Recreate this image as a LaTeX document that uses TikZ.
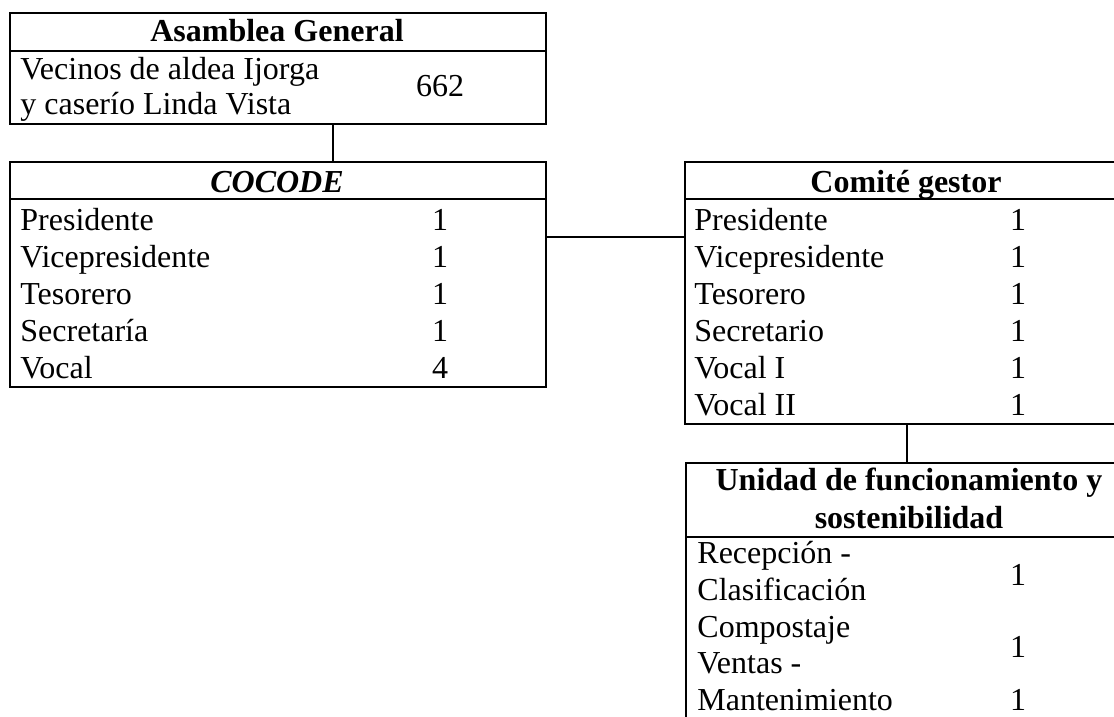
\documentclass[tikz,border=0pt]{standalone}
\usepackage{fontspec}
\setmainfont{Liberation Serif}
\begin{document}
\begin{tikzpicture}[x=0.5pt,y=-0.5pt,
  box/.style={draw=black,line width=0.8pt,rectangle,inner sep=0pt,anchor=north west},
  sep/.style={line width=0.8pt},
  conn/.style={line width=0.8pt},
  txt/.style={inner sep=0pt,anchor=base west,font=\fontsize{16}{18.5}\selectfont},
  num/.style={inner sep=0pt,anchor=base,font=\fontsize{16}{18.5}\selectfont},
  head/.style={inner sep=0pt,anchor=base,font=\fontsize{16}{18.5}\selectfont\bfseries}]
\useasboundingbox (0,0) rectangle (1114,717);
\fill[white] (0,0) rectangle (1114,717);
\clip (0,0) rectangle (1114,717);

% boxes
\node[box,minimum width=268pt,minimum height=55.5pt] (asamblea) at (9,12) {};
\node[box,minimum width=268pt,minimum height=112.5pt] (cocode) at (9,161) {};
\node[box,minimum width=223pt,minimum height=131pt] (comite) at (684,161) {};
\node[box,minimum width=224pt,minimum height=150pt] (unidad) at (685,462) {};

% header separators
\coordinate (hA) at (0,51);
\coordinate (hB) at (0,199);
\coordinate (hC) at (0,537);
\draw[sep] (asamblea.west |- hA) -- (asamblea.east |- hA);
\draw[sep] (cocode.west |- hB) -- (cocode.east |- hB);
\draw[sep] (comite.west |- hB) -- (comite.east |- hB);
\draw[sep] (unidad.west |- hC) -- (unidad.east |- hC);

% connectors
\coordinate (c1) at (333,0);
\coordinate (c2) at (0,237);
\coordinate (c3) at (907,0);
\draw[conn] (asamblea.south -| c1) -- (cocode.north -| c1);
\draw[conn] (cocode.east |- c2) -- (comite.west |- c2);
\draw[conn] (comite.south -| c3) -- (unidad.north -| c3);

% Asamblea General
\node[head] (tA) at (277,42) {Asamblea General};
\node[txt] (a1) at (20,80) {Vecinos de aldea Ijorga};
\node[txt] (a2) at (20,115) {y caserío Linda Vista};
\node[num] (a3) at (440,97) {662};

% COCODE
\node[head,font=\fontsize{16}{18.5}\selectfont\bfseries\itshape] (tB) at (277,192) {COCODE};
\node[txt] (b1) at (20,230) {Presidente};
\node[txt] (b2) at (20,267) {Vicepresidente};
\node[txt] (b3) at (20,304) {Tesorero};
\node[txt] (b4) at (20,341) {Secretaría};
\node[txt] (b5) at (20,378) {Vocal};
\node[num] (b1n) at (440,230) {1};
\node[num] (b2n) at (440,267) {1};
\node[num] (b3n) at (440,304) {1};
\node[num] (b4n) at (440,341) {1};
\node[num] (b5n) at (440,378) {4};

% Comite gestor
\node[head] (tC) at (906,192) {Comité gestor};
\node[txt] (g1) at (694,230) {Presidente};
\node[txt] (g2) at (694,267) {Vicepresidente};
\node[txt] (g3) at (694,304) {Tesorero};
\node[txt] (g4) at (694,341) {Secretario};
\node[txt] (g5) at (694,378) {Vocal I};
\node[txt] (g6) at (694,415) {Vocal II};
\node[num] (g1n) at (1018,230) {1};
\node[num] (g2n) at (1018,267) {1};
\node[num] (g3n) at (1018,304) {1};
\node[num] (g4n) at (1018,341) {1};
\node[num] (g5n) at (1018,378) {1};
\node[num] (g6n) at (1018,415) {1};

% Unidad
\node[head] (tD1) at (909,490) {Unidad de funcionamiento y};
\node[head] (tD2) at (909,528) {sostenibilidad};
\node[txt] (u1) at (697,563) {Recepción -};
\node[txt] (u2) at (697,600) {Clasificación};
\node[txt] (u3) at (697,637) {Compostaje};
\node[txt] (u4) at (697,673) {Ventas -};
\node[txt] (u5) at (697,710) {Mantenimiento};
\node[num] (u1n) at (1018,585) {1};
\node[num] (u2n) at (1018,657) {1};
\node[num] (u3n) at (1018,710) {1};
\end{tikzpicture}
\end{document}
